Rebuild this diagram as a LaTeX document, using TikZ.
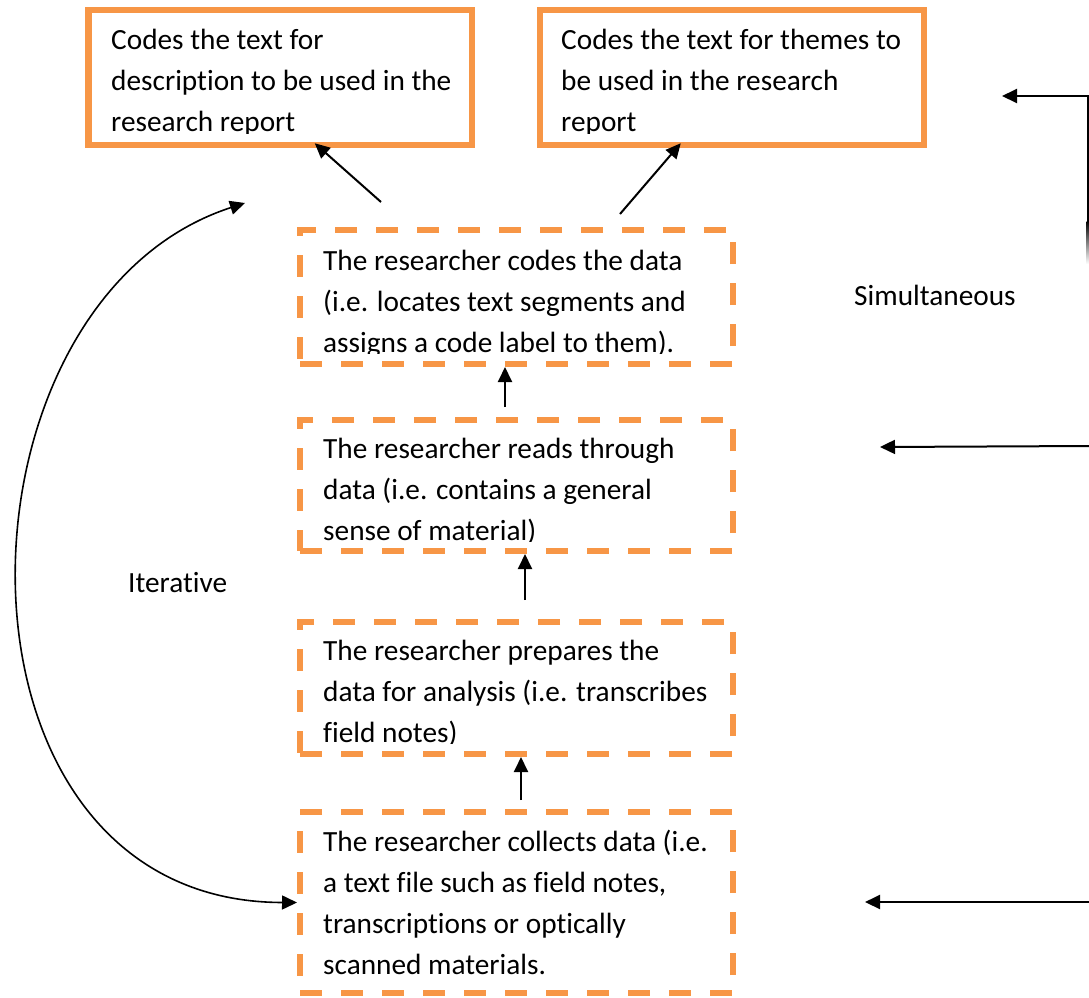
\documentclass[tikz,border=0pt]{standalone}
\usepackage{fontspec}
\setmainfont{Carlito}[Ligatures=NoCommon]
\usetikzlibrary{arrows.meta,calc}
\definecolor{orng}{HTML}{F79646}
\begin{document}
\begin{tikzpicture}[x=1pt,y=-1pt,
  sbox/.style={draw=orng, line width=6.5pt, inner sep=0pt},
  dbox/.style={draw=orng, line width=6pt, dash pattern=on 22pt off 19pt, inner sep=0pt},
  txt/.style={anchor=base west, inner sep=0pt, font=\fontsize{29.3}{41}\selectfont},
  lbl/.style={anchor=base west, inner sep=0pt, font=\fontsize{29.3}{41}\selectfont},
  arr/.style={line width=2pt, -{Triangle[length=15pt,width=14pt]}},
  carr/.style={line width=1.6pt, {Triangle[length=15pt,width=14pt]}-{Triangle[length=15pt,width=14pt]}}
]
\useasboundingbox (0,0) rectangle (1089,997);

% top solid boxes
\node[sbox, minimum width=383.5pt, minimum height=135pt] (A) at (280.25,77.5) {};
\node[sbox, minimum width=384pt, minimum height=135pt] (B) at (732,77.5) {};
\begin{scope}
  \clip (91,13) rectangle (469,133);
  \node[txt] (tA) at (111,49) {\vtop{\hbox{Codes the text for}\hbox{description to be used in the}\hbox{research report}}};
\end{scope}
\begin{scope}
  \clip (543,13) rectangle (921,133);
  \node[txt] (tB) at (561,49) {\vtop{\hbox{Codes the text for themes to}\hbox{be used in the research}\hbox{report}}};
\end{scope}

% dashed boxes
\node[dbox, minimum width=433pt, minimum height=134pt] (C) at (516.5,297) {};
\node[dbox, minimum width=433pt, minimum height=131pt] (D) at (516.5,485.5) {};
\node[dbox, minimum width=433pt, minimum height=132pt] (E) at (516.5,688) {};
\node[dbox, minimum width=433pt, minimum height=181pt] (F) at (516.5,902.5) {};

\begin{scope}
  \clip (303,233) rectangle (730,353);
  \node[txt] (tC) at (323,270) {\vtop{\hbox{The researcher codes the data}\hbox{(i.e. locates text segments and}\hbox{assigns a code label to them).}}};
\end{scope}
\begin{scope}
  \clip (303,423) rectangle (730,541);
  \node[txt] (tD) at (323,458) {\vtop{\hbox{The researcher reads through}\hbox{data (i.e. contains a general}\hbox{sense of material)}}};
\end{scope}
\begin{scope}
  \clip (303,625) rectangle (730,743);
  \node[txt] (tE) at (323,660) {\vtop{\hbox{The researcher prepares the}\hbox{data for analysis (i.e. transcribes}\hbox{field notes)}}};
\end{scope}
\begin{scope}
  \clip (303,815) rectangle (730,982);
  \node[txt] (tF) at (323,851) {\vtop{\hbox{The researcher collects data (i.e.}\hbox{a text file such as field notes,}\hbox{transcriptions or optically}\hbox{scanned materials.}}};
\end{scope}

% arrows between boxes
\coordinate (ta) at (381,202);
\coordinate (tb) at (620,214);
\draw[arr] (ta) -- ($(A.south west)+(229.5,-5)$);
\draw[arr] (tb) -- ($(B.south west)+(144,-5)$);
\coordinate (c1) at (505,407);
\coordinate (c2) at (525,600);
\coordinate (c3) at (521,800);
\draw[arr] (c1) -- (c1 |- C.south);
\draw[arr] (c2) -- (c2 |- D.south);
\draw[arr] (c3) -- (c3 |- E.south);

% right side
\coordinate (r1) at (1087.5,222);
\coordinate (r0) at (1087.5,96);
\coordinate (rt) at (1002,96);
\draw[arr] (r1) -- (r0) -- (rt);
\shade[top color=black, bottom color=white] (1086.5,221) rectangle (1088.5,264);
\coordinate (s1) at (1089,446);
\coordinate (s1t) at (880,447);
\draw[arr] (s1) -- (s1t);
\coordinate (s2) at (1089,902);
\coordinate (s2t) at (865,902);
\draw[arr] (s2) -- (s2t);

% iterative curve
\coordinate (cv) at (245,203);
\draw[carr] (cv) .. controls (-60,302) and (-70,902) .. (F.west);

% labels
\node[lbl] (sim) at (854,305) {Simultaneous};
\node[lbl] (it) at (128,592) {Iterative};
\end{tikzpicture}
\end{document}
